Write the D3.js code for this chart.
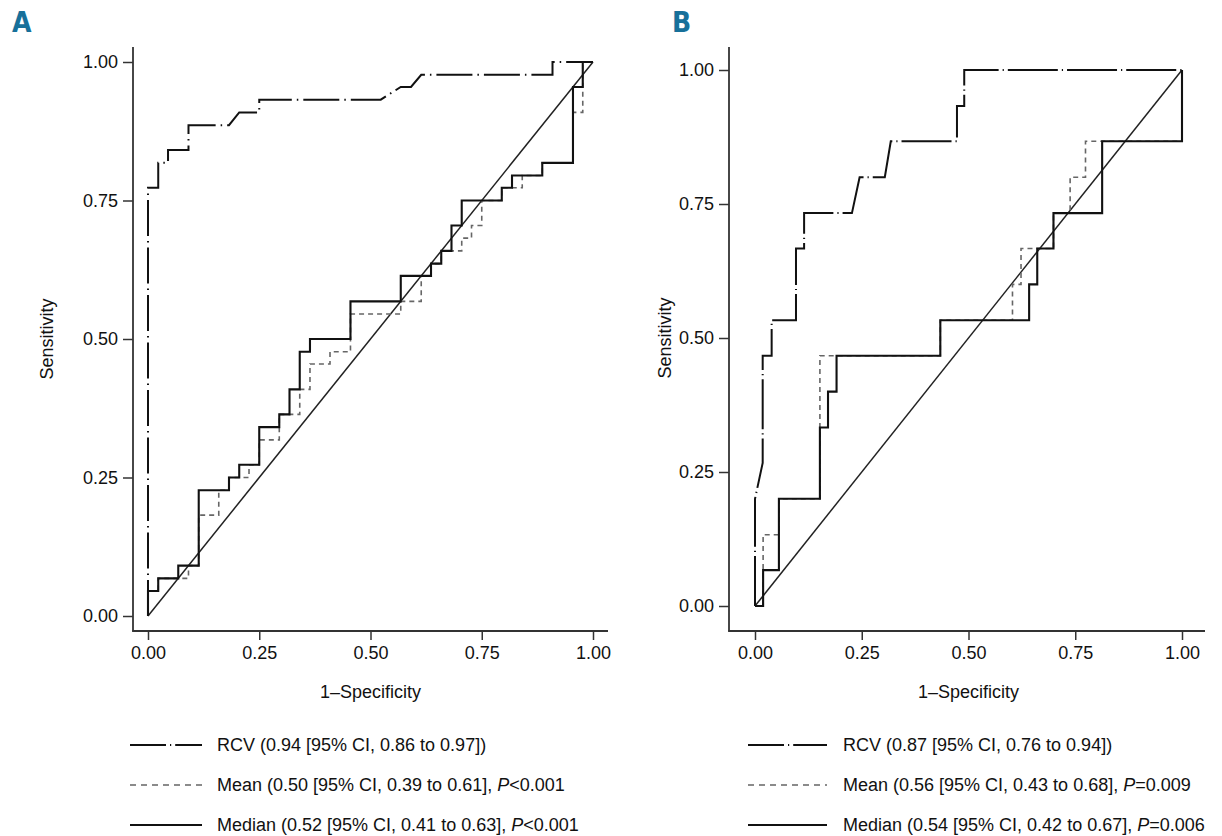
<!DOCTYPE html>
<html>
<head>
<meta charset="utf-8">
<script src="https://cdn.jsdelivr.net/npm/d3@7"></script>
<style>
  html, body { margin: 0; padding: 0; background: #fff; }
  svg { display: block; }
  text { font-family: "Liberation Sans", Arial, sans-serif; fill: #111; }
</style>
</head>
<body>
<svg id="chart" width="1222" height="836"></svg>
<script>
// ---------- DATA ----------
const tickValues = [0, 0.25, 0.5, 0.75, 1];
const panelLetters = ["A", "B"];
const xTitle = "1\u2013Specificity";
const yTitle = "Sensitivity";

// Panel A
const A_rcv_fpr = [0, 0, 0.023, 0.023, 0.045, 0.045, 0.091, 0.091, 0.182, 0.205, 0.25, 0.25, 0.523, 0.568, 0.591, 0.614, 0.909, 0.909, 1];
const A_rcv_tpr = [0, 0.773, 0.773, 0.818, 0.818, 0.841, 0.841, 0.886, 0.886, 0.909, 0.909, 0.932, 0.932, 0.955, 0.955, 0.977, 0.977, 1, 1];

const A_mean_fpr = [0, 0, 0.023, 0.023, 0.068, 0.091, 0.091, 0.114, 0.114, 0.159, 0.159, 0.182, 0.182, 0.227, 0.227, 0.25, 0.25, 0.295, 0.295, 0.341, 0.341, 0.364, 0.364, 0.409, 0.409, 0.455, 0.455, 0.568, 0.568, 0.614, 0.614, 0.636, 0.636, 0.659, 0.659, 0.705, 0.705, 0.727, 0.727, 0.75, 0.75, 0.795, 0.795, 0.841, 0.841, 0.886, 0.886, 0.955, 0.955, 0.977, 0.977, 1];
const A_mean_tpr = [0, 0.045, 0.045, 0.068, 0.068, 0.068, 0.091, 0.091, 0.182, 0.182, 0.227, 0.227, 0.25, 0.25, 0.273, 0.273, 0.318, 0.318, 0.364, 0.364, 0.409, 0.409, 0.455, 0.455, 0.477, 0.477, 0.545, 0.545, 0.568, 0.568, 0.614, 0.614, 0.636, 0.636, 0.659, 0.659, 0.682, 0.682, 0.705, 0.705, 0.75, 0.75, 0.773, 0.773, 0.795, 0.795, 0.818, 0.818, 0.909, 0.909, 1, 1];

const A_median_fpr = [0, 0, 0.023, 0.023, 0.068, 0.068, 0.114, 0.114, 0.182, 0.182, 0.205, 0.205, 0.25, 0.25, 0.295, 0.295, 0.318, 0.318, 0.341, 0.341, 0.364, 0.364, 0.455, 0.455, 0.568, 0.568, 0.636, 0.636, 0.659, 0.659, 0.682, 0.682, 0.705, 0.705, 0.795, 0.795, 0.818, 0.818, 0.886, 0.886, 0.955, 0.955, 0.977, 0.977, 1];
const A_median_tpr = [0, 0.045, 0.045, 0.068, 0.068, 0.091, 0.091, 0.227, 0.227, 0.25, 0.25, 0.273, 0.273, 0.341, 0.341, 0.364, 0.364, 0.409, 0.409, 0.477, 0.477, 0.5, 0.5, 0.568, 0.568, 0.614, 0.614, 0.636, 0.636, 0.659, 0.659, 0.705, 0.705, 0.75, 0.75, 0.773, 0.773, 0.795, 0.795, 0.818, 0.818, 0.955, 0.955, 1, 1];

// Panel B
const B_rcv_fpr = [0, 0, 0.018, 0.018, 0.039, 0.039, 0.096, 0.096, 0.115, 0.115, 0.227, 0.245, 0.304, 0.318, 0.473, 0.473, 0.49, 0.49, 1];
const B_rcv_tpr = [0, 0.2, 0.267, 0.467, 0.467, 0.533, 0.533, 0.667, 0.667, 0.733, 0.733, 0.8, 0.8, 0.867, 0.867, 0.933, 0.933, 1, 1];

const B_mean_fpr = [0, 0.019, 0.019, 0.056, 0.056, 0.152, 0.152, 0.434, 0.434, 0.603, 0.603, 0.623, 0.623, 0.699, 0.699, 0.738, 0.738, 0.774, 0.774, 1, 1];
const B_mean_tpr = [0, 0, 0.133, 0.133, 0.2, 0.2, 0.467, 0.467, 0.533, 0.533, 0.6, 0.6, 0.667, 0.667, 0.733, 0.733, 0.8, 0.8, 0.867, 0.867, 1];

const B_median_fpr = [0, 0.019, 0.019, 0.056, 0.056, 0.152, 0.152, 0.171, 0.171, 0.191, 0.191, 0.434, 0.434, 0.642, 0.642, 0.661, 0.661, 0.699, 0.699, 0.813, 0.813, 1, 1];
const B_median_tpr = [0, 0, 0.067, 0.067, 0.2, 0.2, 0.333, 0.333, 0.4, 0.4, 0.467, 0.467, 0.533, 0.533, 0.6, 0.6, 0.667, 0.667, 0.733, 0.733, 0.867, 0.867, 1];

const A_legend = [
  { label: "RCV (0.94 [95% CI, 0.86 to 0.97])", p: null },
  { label: "Mean (0.50 [95% CI, 0.39 to 0.61], ", p: "<0.001" },
  { label: "Median (0.52 [95% CI, 0.41 to 0.63], ", p: "<0.001" }
];
const B_legend = [
  { label: "RCV (0.87 [95% CI, 0.76 to 0.94])", p: null },
  { label: "Mean (0.56 [95% CI, 0.43 to 0.68], ", p: "=0.009" },
  { label: "Median (0.54 [95% CI, 0.42 to 0.67], ", p: "=0.006" }
];

// ---------- STYLES ----------
const styles = {
  rcvA:   { stroke: "#111", width: 2.0, dash: "36,5,1.5,5" },
  rcvB:   { stroke: "#111", width: 2.0, dash: "50,4,1.2,4" },
  mean:   { stroke: "#666", width: 1.6, dash: "5,4" },
  median: { stroke: "#111", width: 2.1, dash: null },
  diag:   { stroke: "#222", width: 1.5, dash: null }
};

const svg = d3.select("#chart");
const zip = (xs, ys) => xs.map((v, i) => [v, ys[i]]);

const panels = [
  { letter: panelLetters[0], letterX: 12, xr: [148, 593], yr: [616, 62], axisX: 133, axisY: 631, axisTop: 47, axisRight: 608,
    rcv: zip(A_rcv_fpr, A_rcv_tpr), rcvStyle: styles.rcvA, mean: zip(A_mean_fpr, A_mean_tpr), median: zip(A_median_fpr, A_median_tpr),
    yTitleX: 47, legend: A_legend, legLine: [130, 202], legText: 217 },
  { letter: panelLetters[1], letterX: 672, xr: [755, 1182], yr: [606, 70], axisX: 729, axisY: 631, axisTop: 47, axisRight: 1205,
    rcv: zip(B_rcv_fpr, B_rcv_tpr), rcvStyle: styles.rcvB, mean: zip(B_mean_fpr, B_mean_tpr), median: zip(B_median_fpr, B_median_tpr),
    yTitleX: 665, legend: B_legend, legLine: [748, 827], legText: 843 }
];

panels.forEach(p => {
  const x = d3.scaleLinear().domain([0, 1]).range(p.xr);
  const y = d3.scaleLinear().domain([0, 1]).range(p.yr);
  const g = svg.append("g");

  // panel letter
  g.append("text").attr("x", p.letterX).attr("y", 32)
    .style("font-family", "'Liberation Sans Narrow', 'DejaVu Sans Condensed', sans-serif")
    .style("font-weight", "bold").style("font-size", "28px").style("fill", "#17709a")
    .text(p.letter);

  // axes
  const yAxis = d3.axisLeft(y).tickValues(tickValues).tickFormat(d3.format(".2f")).tickSize(10).tickPadding(5);
  const xAxis = d3.axisBottom(x).tickValues(tickValues).tickFormat(d3.format(".2f")).tickSize(9).tickPadding(6);
  const ya = g.append("g").attr("transform", `translate(${p.axisX},0)`).call(yAxis);
  const xa = g.append("g").attr("transform", `translate(0,${p.axisY})`).call(xAxis);
  [ya, xa].forEach(a => {
    a.select(".domain").remove();
    a.selectAll(".tick line").attr("stroke", "#333").attr("stroke-width", 1.5);
    a.selectAll(".tick text").style("font-size", "18px").style("font-family", "'Liberation Sans', Arial, sans-serif").attr("fill", "#111");
  });
  g.append("line").attr("x1", p.axisX).attr("x2", p.axisX).attr("y1", p.axisTop).attr("y2", p.axisY + 0.75)
    .attr("stroke", "#333").attr("stroke-width", 1.8);
  g.append("line").attr("x1", p.axisX - 0.75).attr("x2", p.axisRight).attr("y1", p.axisY).attr("y2", p.axisY)
    .attr("stroke", "#333").attr("stroke-width", 1.8);

  // axis titles
  g.append("text").attr("transform", `translate(${p.yTitleX},${(p.yr[0] + p.yr[1]) / 2}) rotate(-90)`)
    .attr("text-anchor", "middle").attr("dy", "0.35em").style("font-size", "18px").text(yTitle);
  g.append("text").attr("x", (p.xr[0] + p.xr[1]) / 2).attr("y", 698)
    .attr("text-anchor", "middle").style("font-size", "18px").text(xTitle);

  const line = d3.line().x(d => x(d[0])).y(d => y(d[1]));
  const draw = (data, s) => {
    const path = g.append("path").datum(data).attr("d", line)
      .attr("fill", "none").attr("stroke", s.stroke).attr("stroke-width", s.width)
      .attr("stroke-linejoin", "miter");
    if (s.dash) path.attr("stroke-dasharray", s.dash);
  };
  // reference diagonal
  draw([[0, 0], [1, 1]], styles.diag);
  draw(p.rcv, p.rcvStyle);
  draw(p.mean, styles.mean);
  draw(p.median, styles.median);

  // legend
  const rows = [745, 785, 825];
  const lstyles = [styles.rcvA, styles.mean, styles.median];
  p.legend.forEach((d, i) => {
    const l = g.append("line").attr("x1", p.legLine[0]).attr("x2", p.legLine[1])
      .attr("y1", rows[i]).attr("y2", rows[i])
      .attr("stroke", lstyles[i].stroke).attr("stroke-width", lstyles[i].width);
    if (i === 0) l.attr("stroke-dasharray", "36,4,1.2,4");
    if (i === 1) l.attr("stroke-dasharray", "6,5");
    const t = g.append("text").attr("x", p.legText).attr("y", rows[i]).attr("dy", "0.35em")
      .style("font-size", "18px");
    t.append("tspan").text(d.label);
    if (d.p) {
      t.append("tspan").style("font-style", "italic").text("P");
      t.append("tspan").text(d.p);
    }
  });
});
</script>
</body>
</html>
